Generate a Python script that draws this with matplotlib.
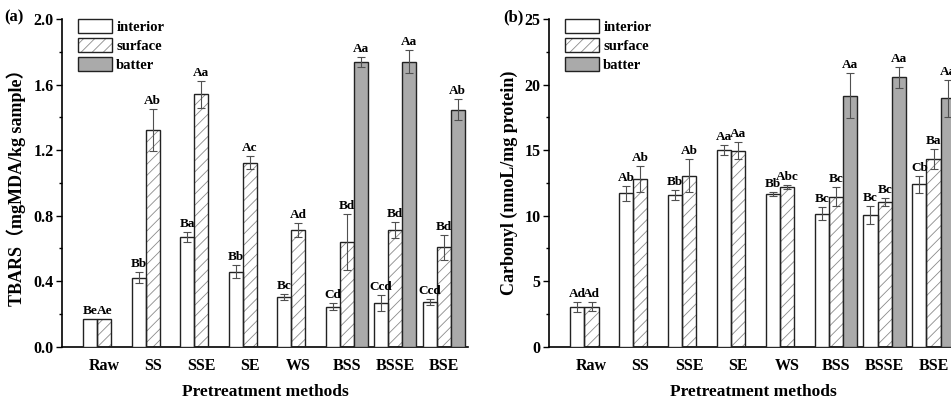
import numpy as np
import matplotlib
matplotlib.use("Agg")
import matplotlib.pyplot as plt
from matplotlib.patches import Patch
from matplotlib.legend_handler import HandlerTuple

plt.rcParams["font.family"] = ["Liberation Serif", "Noto Sans CJK SC", "DejaVu Sans"]
plt.rcParams["font.weight"] = "bold"
plt.rcParams["hatch.linewidth"] = 0.6

METHODS = ["Raw", "SS", "SSE", "SE", "WS", "BSS", "BSSE", "BSE"]
SERIES = ["interior", "surface", "batter"]

# (a) TBARS
tbars_interior = [0.167, 0.421, 0.671, 0.458, 0.305, 0.244, 0.267, 0.273]
tbars_interior_err = [0.0, 0.034, 0.030, 0.040, 0.018, 0.020, 0.047, 0.018]
tbars_surface = [0.167, 1.322, 1.540, 1.123, 0.712, 0.637, 0.712, 0.607]
tbars_surface_err = [0.0, 0.130, 0.083, 0.040, 0.045, 0.170, 0.050, 0.075]
tbars_batter = [np.nan, np.nan, np.nan, np.nan, np.nan, 1.738, 1.738, 1.445]
tbars_batter_err = [0, 0, 0, 0, 0, 0.028, 0.070, 0.064]
tbars_lab_interior = ["Be", "Bb", "Ba", "Bb", "Bc", "Cd", "Ccd", "Ccd"]
tbars_lab_surface = ["Ae", "Ab", "Aa", "Ac", "Ad", "Bd", "Bd", "Bd"]
tbars_lab_batter = ["", "", "", "", "", "Aa", "Aa", "Ab"]

# (b) Carbonyl
carb_interior = [3.01, 11.71, 11.56, 15.02, 11.63, 10.15, 10.05, 12.40]
carb_interior_err = [0.37, 0.58, 0.40, 0.40, 0.15, 0.50, 0.70, 0.65]
carb_surface = [3.05, 12.80, 13.05, 14.94, 12.21, 11.45, 11.07, 14.33]
carb_surface_err = [0.35, 1.00, 1.25, 0.65, 0.15, 0.70, 0.30, 0.75]
carb_batter = [np.nan, np.nan, np.nan, np.nan, np.nan, 19.16, 20.56, 18.96]
carb_batter_err = [0, 0, 0, 0, 0, 1.75, 0.80, 1.40]
carb_lab_interior = ["Ad", "Ab", "Bb", "Aa", "Bb", "Bc", "Bc", "Cb"]
carb_lab_surface = ["Ad", "Ab", "Ab", "Aa", "Abc", "Bc", "Bc", "Ba"]
carb_lab_batter = ["", "", "", "", "", "Aa", "Aa", "Aa"]

W = 0.29
FACES = ["white", "white", "#aaaaaa"]
HATCHES = [None, "///", None]
ERRC = "#505050"


def draw_panel(ax, vals, errs, labs, ylim, yticks, ylabel, off):
    x = np.arange(len(METHODS))
    for i, (v, e, lab) in enumerate(zip(vals, errs, labs)):
        v = np.asarray(v, float)
        e = np.asarray(e, float)
        ok = ~np.isnan(v)
        xs = x[ok] + (i - 1) * W
        if HATCHES[i]:
            ax.bar(xs, v[ok], W, facecolor="white", edgecolor="#8a8a8a",
                   hatch=HATCHES[i], linewidth=0, zorder=2)
            ax.bar(xs, v[ok], W, fill=False, edgecolor="#222222", linewidth=1.0, zorder=3)
        else:
            ax.bar(xs, v[ok], W, facecolor=FACES[i], edgecolor="#222222",
                   linewidth=1.0, zorder=3)
        has_err = e[ok] > 0
        ax.errorbar(xs[has_err], v[ok][has_err], yerr=e[ok][has_err], fmt="none",
                    ecolor=ERRC, elinewidth=0.8, capsize=3, capthick=0.8, zorder=4)
        for xx, vv, ee, tt in zip(xs, v[ok], e[ok], np.asarray(lab)[ok]):
            ax.text(xx, vv + ee + off, tt, ha="center", va="bottom",
                    fontsize=9.5, fontweight="bold", zorder=5)

    ax.set_xlim(-0.87, 7.5)
    ax.set_ylim(*ylim)
    ax.set_yticks(yticks)
    ax.set_yticks([(a + b) / 2 for a, b in zip(yticks[:-1], yticks[1:])], minor=True)
    ax.set_xticks(x)
    ax.set_xticklabels(METHODS, fontsize=11.5, fontweight="bold")
    ax.tick_params(axis="x", length=0, pad=8)
    ax.tick_params(axis="y", which="major", length=4, width=1, pad=2, labelsize=11.5)
    ax.tick_params(axis="y", which="minor", length=2.5, width=1)
    for s in ("top", "right"):
        ax.spines[s].set_visible(False)
    for s in ("left", "bottom"):
        ax.spines[s].set_linewidth(1.2)
    ax.set_xlabel("Pretreatment methods", fontsize=12.5, fontweight="bold", labelpad=7)
    ax.set_ylabel(ylabel, fontsize=13, fontweight="bold", labelpad=5)

    handles = [
        Patch(facecolor="white", edgecolor="#222222", linewidth=1.0),
        (Patch(facecolor="white", edgecolor="#8a8a8a", hatch="///", linewidth=0),
         Patch(fill=False, edgecolor="#222222", linewidth=1.0)),
        Patch(facecolor="#aaaaaa", edgecolor="#222222", linewidth=1.0),
    ]
    ax.legend(handles, SERIES, loc="upper left", bbox_to_anchor=(0.04, 1.0),
              frameon=False, borderpad=0, borderaxespad=0,
              handlelength=2.3, handleheight=1.15, labelspacing=0.25,
              handletextpad=0.3, prop={"weight": "bold", "size": 10.5},
              handler_map={tuple: HandlerTuple(ndivide=1)})


fig = plt.figure(figsize=(9.51, 3.98), dpi=100)
ax1 = fig.add_axes([0.0652, 0.1289, 0.4269, 0.8234])
ax2 = fig.add_axes([0.5773, 0.1289, 0.4300, 0.8234])

draw_panel(ax1, [tbars_interior, tbars_surface, tbars_batter],
           [tbars_interior_err, tbars_surface_err, tbars_batter_err],
           [tbars_lab_interior, tbars_lab_surface, tbars_lab_batter],
           (0, 2.0), [0.0, 0.4, 0.8, 1.2, 1.6, 2.0],
           "TBARS（mgMDA/kg sample）", 0.012)
ax1.set_yticklabels(["0.0", "0.4", "0.8", "1.2", "1.6", "2.0"])
draw_panel(ax2, [carb_interior, carb_surface, carb_batter],
           [carb_interior_err, carb_surface_err, carb_batter_err],
           [carb_lab_interior, carb_lab_surface, carb_lab_batter],
           (0, 25), [0, 5, 10, 15, 20, 25],
           "Carbonyl (nmoL/mg protein)", 0.15)

fig.text(4 / 951, 1 - 17 / 398, "(a)", fontsize=12, fontweight="bold", va="center")
fig.text(503 / 951, 1 - 17 / 398, "(b)", fontsize=12, fontweight="bold", va="center")

fig.savefig("out.png", dpi=100, facecolor="white")
